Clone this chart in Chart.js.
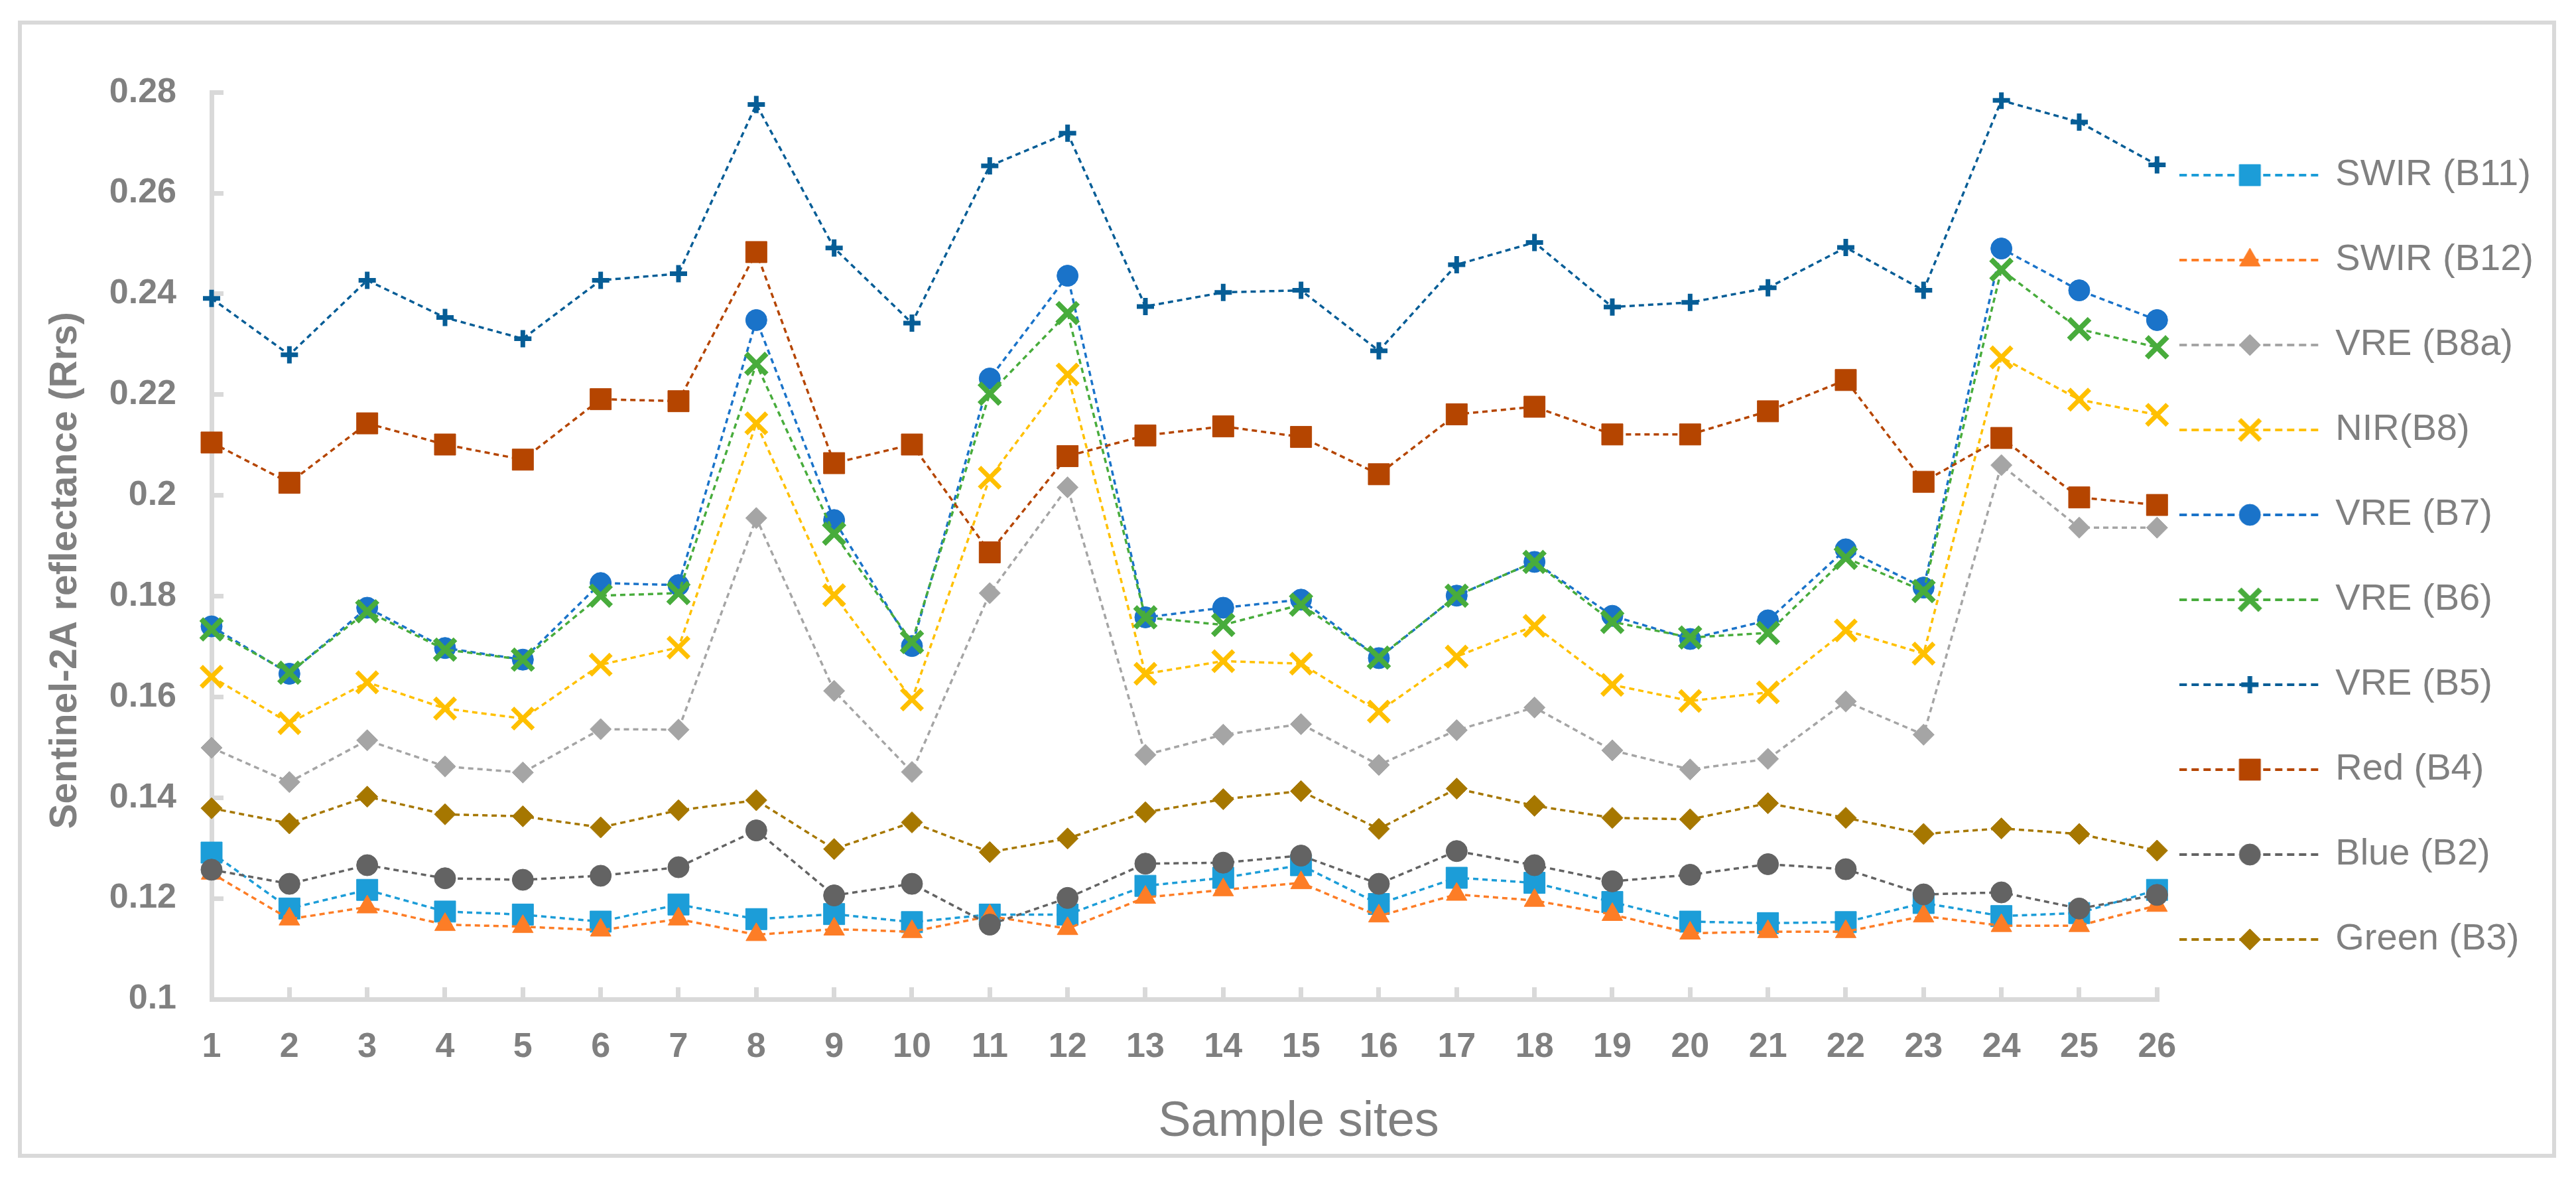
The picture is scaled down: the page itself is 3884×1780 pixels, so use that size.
<!DOCTYPE html>
<html>
<head>
<meta charset="utf-8">
<title>Sentinel-2A reflectance by sample site</title>
<script src="https://cdn.jsdelivr.net/npm/chart.js@4.4.1/dist/chart.umd.min.js"></script>
<style>
    html, body { margin: 0; padding: 0; background: #ffffff; }
    #frame {
        position: absolute;
        left: 27px;
        top: 31px;
        width: 3815px;
        height: 1702px;
        border: 6px solid #d9d9d9;
    }
</style>
</head>
<body>
<div id="frame"><canvas id="bandChart"></canvas></div>
<script>
// sample sites on the x axis
const sites = ['1', '2', '3', '4', '5', '6', '7', '8', '9', '10', '11', '12', '13',
    '14', '15', '16', '17', '18', '19', '20', '21', '22', '23', '24', '25', '26'];

// reflectance per band
const swirB11 = [0.1291, 0.1180, 0.1217, 0.1174, 0.1168, 0.1154, 0.1188, 0.1159, 0.1169, 0.1153, 0.1168, 0.1168, 0.1225,
    0.1241, 0.1266, 0.1189, 0.1241, 0.1231, 0.1193, 0.1154, 0.1151, 0.1153, 0.1191, 0.1165, 0.1171, 0.1217];
const swirB12 = [0.1250, 0.1159, 0.1183, 0.1148, 0.1144, 0.1137, 0.1159, 0.1128, 0.1139, 0.1134, 0.1165, 0.1140, 0.1202,
    0.1217, 0.1231, 0.1165, 0.1208, 0.1196, 0.1168, 0.1131, 0.1134, 0.1134, 0.1165, 0.1146, 0.1146, 0.1186];
const vreB8a = [0.1499, 0.1431, 0.1514, 0.1462, 0.1450, 0.1536, 0.1535, 0.1955, 0.1612, 0.1451, 0.1806, 0.2016, 0.1485,
    0.1525, 0.1546, 0.1465, 0.1534, 0.1579, 0.1494, 0.1456, 0.1477, 0.1591, 0.1525, 0.2060, 0.1936, 0.1936];
const nirB8 = [0.1640, 0.1548, 0.1629, 0.1577, 0.1557, 0.1664, 0.1698, 0.2143, 0.1802, 0.1595, 0.2035, 0.2240, 0.1646,
    0.1671, 0.1666, 0.1571, 0.1680, 0.1741, 0.1624, 0.1592, 0.1609, 0.1732, 0.1686, 0.2274, 0.2190, 0.2160];
const vreB7 = [0.1740, 0.1646, 0.1777, 0.1697, 0.1674, 0.1826, 0.1822, 0.2348, 0.1951, 0.1701, 0.2232, 0.2436, 0.1758,
    0.1777, 0.1793, 0.1677, 0.1801, 0.1868, 0.1761, 0.1715, 0.1752, 0.1893, 0.1817, 0.2490, 0.2407, 0.2348];
const vreB6 = [0.1734, 0.1648, 0.1770, 0.1694, 0.1674, 0.1801, 0.1806, 0.2261, 0.1924, 0.1709, 0.2202, 0.2362, 0.1758,
    0.1743, 0.1783, 0.1678, 0.1801, 0.1868, 0.1749, 0.1718, 0.1727, 0.1876, 0.1810, 0.2448, 0.2330, 0.2294];
const vreB5 = [0.2391, 0.2279, 0.2427, 0.2353, 0.2311, 0.2427, 0.2440, 0.2776, 0.2491, 0.2342, 0.2654, 0.2719, 0.2375,
    0.2403, 0.2407, 0.2287, 0.2458, 0.2502, 0.2374, 0.2383, 0.2412, 0.2492, 0.2407, 0.2784, 0.2741, 0.2656];
const redB4 = [0.2105, 0.2025, 0.2143, 0.2101, 0.2071, 0.2191, 0.2187, 0.2483, 0.2064, 0.2101, 0.1887, 0.2078, 0.2119,
    0.2137, 0.2116, 0.2042, 0.2161, 0.2176, 0.2121, 0.2121, 0.2167, 0.2229, 0.2027, 0.2114, 0.1996, 0.1981];
const blueB2 = [0.1257, 0.1229, 0.1266, 0.1240, 0.1237, 0.1245, 0.1262, 0.1335, 0.1206, 0.1229, 0.1148, 0.1201, 0.1269,
    0.1271, 0.1285, 0.1229, 0.1294, 0.1266, 0.1234, 0.1247, 0.1268, 0.1258, 0.1208, 0.1212, 0.1180, 0.1207];
const greenB3 = [0.1379, 0.1349, 0.1402, 0.1367, 0.1363, 0.1341, 0.1375, 0.1395, 0.1298, 0.1351, 0.1292, 0.1319, 0.1371,
    0.1397, 0.1413, 0.1338, 0.1418, 0.1384, 0.1360, 0.1357, 0.1389, 0.1360, 0.1328, 0.1339, 0.1328, 0.1295];

const yMin = 0.1;
const yMax = 0.28;
const yStep = 0.02;

const yTitle = 'Sentinel-2A reflectance (Rrs)';
const xTitle = 'Sample sites';

const textGray = '#808080';
const axisGray = '#d9d9d9';
const fontFamily = "'Liberation Sans', Arial, sans-serif";

Chart.defaults.font.family = fontFamily;
Chart.defaults.color = textGray;

function series(label, data, color, style, radius, markerWidth) {
    return {
        label: label,
        data: data,
        borderColor: color,
        borderWidth: 3.5,
        borderDash: [8, 6],
        fill: false,
        tension: 0,
        pointStyle: style,
        pointRadius: radius,
        pointHoverRadius: radius,
        pointBackgroundColor: color,
        pointBorderColor: color,
        pointBorderWidth: markerWidth,
        pointHoverBorderWidth: markerWidth
    };
}

const datasets = [
    series('SWIR (B11)', swirB11, '#1c9dd8', 'rect', 22.6, 1),
    series('SWIR (B12)', swirB12, '#fd7d26', 'triangle', 18, 1),
    series('VRE (B8a)', vreB8a, '#a5a5a5', 'rectRot', 16, 1),
    series('NIR(B8)', nirB8, '#ffc000', 'crossRot', 22, 7),
    series('VRE (B7)', vreB7, '#1a73c9', 'circle', 16, 1),
    series('VRE (B6)', vreB6, '#48ac3c', 'crossRot', 22, 8),
    series('VRE (B5)', vreB5, '#065d96', 'cross', 13, 7),
    series('Red (B4)', redB4, '#b54500', 'rect', 22.6, 1),
    series('Blue (B2)', blueB2, '#636363', 'circle', 16, 1),
    series('Green (B3)', greenB3, '#a67700', 'rectRot', 16, 1)
];

// later series are drawn on top, like the original
datasets.forEach((ds, i) => { ds.order = datasets.length - i; });

// legend sample: dashed line with the marker in the middle
function legendGlyph(ds) {
    const c = document.createElement('canvas');
    c.width = 245;
    c.height = 60;
    const g = c.getContext('2d');
    g.strokeStyle = ds.borderColor;
    g.lineWidth = 4;
    g.setLineDash([11, 7]);
    g.beginPath();
    g.moveTo(0, 30);
    g.lineTo(212, 30);
    g.stroke();
    g.setLineDash([]);
    g.fillStyle = ds.pointBackgroundColor;
    g.strokeStyle = ds.pointBorderColor;
    g.lineWidth = ds.pointBorderWidth;
    Chart.helpers.drawPoint(g, {
        pointStyle: ds.pointStyle,
        radius: ds.pointRadius,
        borderWidth: ds.pointBorderWidth,
        rotation: 0
    }, 106, 30);
    return c;
}

const axisTitles = {
    id: 'axisTitles',
    afterDraw(chart) {
        const ctx = chart.ctx;
        ctx.save();
        ctx.fillStyle = textGray;
        ctx.textAlign = 'center';
        ctx.textBaseline = 'alphabetic';

        ctx.save();
        ctx.font = 'bold 57px ' + fontFamily;
        ctx.translate(82, 823);
        ctx.rotate(-Math.PI / 2);
        ctx.fillText(yTitle, 0, 0);
        ctx.restore();

        ctx.font = '74px ' + fontFamily;
        ctx.fillText(xTitle, 1925, 1675);
        ctx.restore();
    }
};

const ctx = document.getElementById('bandChart').getContext('2d');
const bandChart = new Chart(ctx, {
    type: 'line',
    data: {
        labels: sites,
        datasets: datasets
    },
    options: {
        responsive: true,
        maintainAspectRatio: false,
        animation: false,
        layout: {
            padding: { top: 69, right: 18, bottom: 0, left: 0 }
        },
        scales: {
            x: {
                type: 'category',
                offset: false,
                border: { display: true, color: axisGray, width: 7 },
                grid: {
                    drawOnChartArea: false,
                    drawTicks: true,
                    tickLength: -18,
                    color: axisGray,
                    lineWidth: 7
                },
                ticks: {
                    autoSkip: false,
                    maxRotation: 0,
                    minRotation: 0,
                    padding: 59,
                    color: textGray,
                    font: { size: 52, weight: 'bold' }
                },
                afterFit: function(scale) {
                    scale.height = 233;
                }
            },
            y: {
                min: yMin,
                max: yMax,
                border: { display: true, color: axisGray, width: 7 },
                grid: {
                    drawOnChartArea: false,
                    drawTicks: true,
                    tickLength: -18,
                    color: axisGray,
                    lineWidth: 7
                },
                ticks: {
                    stepSize: yStep,
                    padding: 71,
                    color: textGray,
                    font: { size: 52, weight: 'bold' },
                    callback: function(value) {
                        return String(Number(value.toFixed(2)));
                    }
                },
                afterFit: function(scale) {
                    scale.width = 286;
                }
            }
        },
        plugins: {
            tooltip: { enabled: false },
            legend: {
                position: 'right',
                align: 'start',
                title: {
                    display: true,
                    text: '',
                    padding: { top: 48, bottom: 0 },
                    font: { size: 10, lineHeight: 1 }
                },
                labels: {
                    usePointStyle: true,
                    pointStyleWidth: 169,
                    padding: 72,
                    color: textGray,
                    font: { size: 56 },
                    generateLabels: function(chart) {
                        return chart.data.datasets.map(function(ds, i) {
                            return {
                                text: ds.label,
                                pointStyle: legendGlyph(ds),
                                datasetIndex: i,
                                fontColor: textGray,
                                hidden: false,
                                lineWidth: 0,
                                strokeStyle: 'rgba(0,0,0,0)',
                                fillStyle: 'rgba(0,0,0,0)'
                            };
                        });
                    }
                }
            }
        }
    },
    plugins: [axisTitles]
});
</script>
</body>
</html>
